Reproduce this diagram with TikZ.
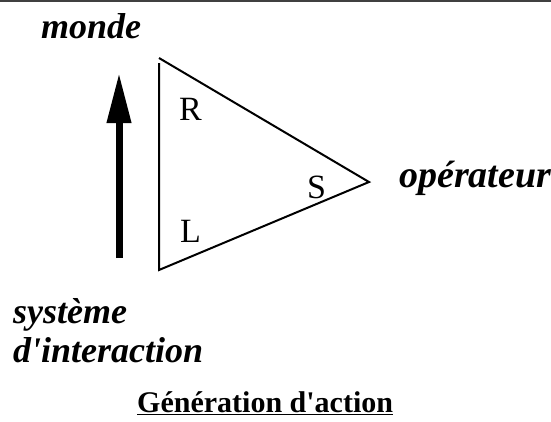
\documentclass[tikz,border=0pt]{standalone}
\usepackage{fontspec}
\setmainfont{Liberation Serif}
\usepackage{tikz}
\usetikzlibrary{arrows.meta}

\begin{document}
\begin{tikzpicture}[x=1pt, y=-1pt,
  label/.style={font=\fontsize{36}{39}\selectfont\bfseries\itshape, anchor=base west, inner sep=0pt},
  corner/.style={font=\fontsize{34}{38}\selectfont, anchor=base west, inner sep=0pt},
  title/.style={font=\fontsize{30}{34}\selectfont\bfseries, anchor=base west, inner sep=0pt},
  edge/.style={line width=2pt}
]
  \useasboundingbox (0,0) rectangle (551,421);
  \draw[black!75, line width=1.5pt] (0,0.75) -- (551,0.75);

  % triangle
  \coordinate (top) at (159,58);
  \coordinate (tip) at (369,182);
  \coordinate (bot) at (159,270);
  \coordinate (vtop) at (159,63);
  \draw[edge] (top) -- (tip) -- (bot) -- (vtop);
  \node[corner] (r) at (179,120) {R};
  \node[corner] (l) at (180,242) {L};
  \node[corner] (s) at (307,198) {S};

  % labels
  \node[label] (monde) at (41,38) {monde};
  \node[label, font=\fontsize{38}{42}\selectfont\bfseries\itshape] (oper) at (399,187) {opérateur};
  \node[label, align=left] (sys) at (13,362) {système\\d\textquotesingle interaction};
  \node[title] (gen) at (137,412) {\underline{Génération d\textquotesingle action}};

  % arrow
  \coordinate (afoot) at (119,258);
  \coordinate (ahead) at (119,73);
  \draw[line width=7pt, -{Triangle[length=50pt, width=23pt]}] (afoot) -- (ahead);
\end{tikzpicture}
\end{document}
